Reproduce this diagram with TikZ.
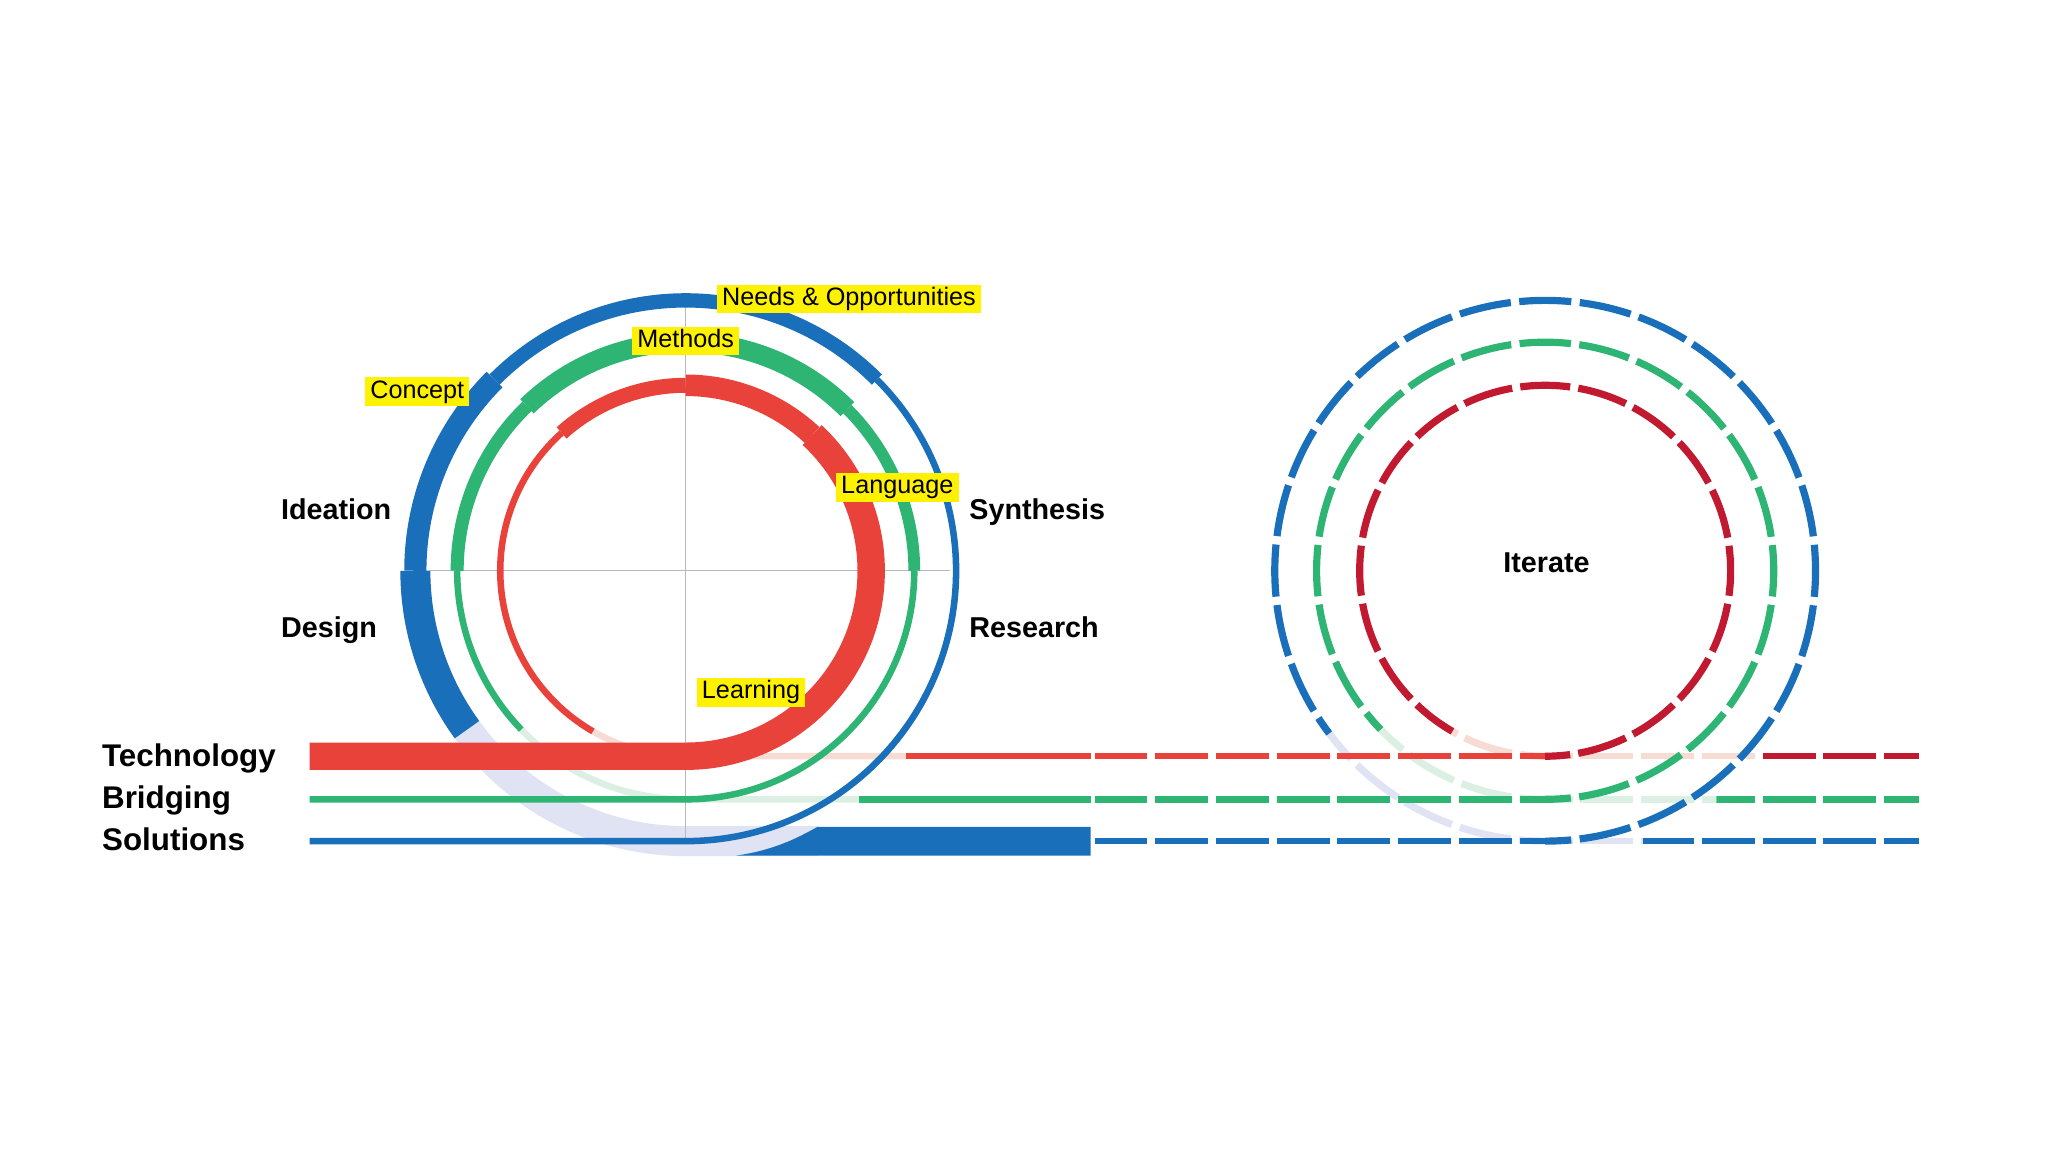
\documentclass[tikz,border=0pt]{standalone}
\usepackage{fontspec}
\setmainfont{Liberation Sans}
\usepackage{tikz}
\usetikzlibrary{positioning}

\definecolor{solBlue}{HTML}{1A6FBA}
\definecolor{briGreen}{HTML}{2EB574}
\definecolor{tecRed}{HTML}{E9423A}
\definecolor{itRed}{HTML}{C1192F}
\definecolor{solPale}{HTML}{DFE3F3}
\definecolor{briPale}{HTML}{DCEFE3}
\definecolor{tecPale}{HTML}{F7DCD3}
\definecolor{tagYellow}{HTML}{FFF200}

\tikzset{
  tagbox/.style={fill=tagYellow, text=black, font=\fontsize{19.3}{22}\selectfont,
    inner xsep=4pt, inner ysep=2pt, text height=14pt, text depth=4pt},
  stagelabel/.style={font=\bfseries\fontsize{22}{26}\selectfont, anchor=base west, inner sep=0pt},
  tracklabel/.style={font=\bfseries\fontsize{24}{28}\selectfont, anchor=base west, inner sep=0pt},
  hdash/.style={line width=5pt, dash pattern=on 40.5pt off 6pt},
}

\begin{document}
\begin{tikzpicture}[x=1pt,y=1pt]
  \useasboundingbox (0,0) rectangle (1568,882);
  \coordinate (lc) at (525,445);
  \coordinate (rc) at (1183,445);

  % left loop: the parts running behind
  \draw[solPale, line width=23] (lc) ++(216:207) arc[start angle=216, end angle=270, radius=207] -- (626,238);
  \draw[briPale, line width=5] (lc) ++(224:175) arc[start angle=224, end angle=270, radius=175] -- (658,270);
  \draw[tecPale, line width=5] (lc) ++(240:142) arc[start angle=240, end angle=270, radius=142] -- (694,303);

  % cross hair
  \draw[gray!55, line width=0.8] (329,445) -- (727,445);
  \draw[gray!55, line width=0.8] (525,650) -- (525,240);

  % Solutions
  \draw[solBlue, line width=5] (237,238) -- (525,238) arc[start angle=-90, end angle=45, radius=207];
  \foreach \a/\b/\w in {45/135/11, 135/180/17, 180/216/23}
    \draw[solBlue, line width=\w] (lc) ++(\a:207) arc[start angle=\a, end angle=\b, radius=207];
  \fill[solBlue] (564,227) .. controls (592,231) and (610,240) .. (626,249) -- (835,249) -- (835,227) -- cycle;

  % Bridging
  \draw[briGreen, line width=5] (237,270) -- (525,270) arc[start angle=-90, end angle=0, radius=175];
  \foreach \a/\b/\w in {0/45/9, 45/134/15, 134/180/10, 180/224/5}
    \draw[briGreen, line width=\w] (lc) ++(\a:175) arc[start angle=\a, end angle=\b, radius=175];
  \draw[briGreen, line width=5] (658,270) -- (835,270);

  % Technology
  \draw[tecRed, line width=21] (237,303) -- (525,303) arc[start angle=-90, end angle=47, radius=142];
  \foreach \a/\b/\w in {47/90/16.5, 90/132/11.5, 132/240/5}
    \draw[tecRed, line width=\w] (lc) ++(\a:142) arc[start angle=\a, end angle=\b, radius=142];
  \draw[tecRed, line width=5] (694,303) -- (835,303);

  % right loop: rings behind
  \foreach \r/\a/\pal/\n in {207/217/solPale/28, 175/224/briPale/24, 142/240/tecPale/20} {
    \pgfmathsetmacro\dper{2*pi*\r/\n}
    \pgfmathsetmacro\don{0.86*\dper}
    \pgfmathsetmacro\doff{\dper-\don}
    \pgfmathsetmacro\dph{\don/2 + (\a+90)/360*2*pi*\r}
    \draw[\pal, line width=5.5, dash pattern=on \don pt off \doff pt, dash phase=\dph pt]
      (rc) ++(\a:\r) arc[start angle=\a, end angle=270, radius=\r];
  }

  % dashed tracks
  \foreach \y/\ca/\xa/\cb/\xb/\cc in {303/tecRed/1184/tecPale/1349/itRed,
      270/briGreen/1184/briPale/1314/briGreen, 238/solBlue/1184/solPale/1258/solBlue} {
    \begin{scope}
      \clip (830,\y-10) rectangle (\xa,\y+10);
      \draw[hdash, \ca] (838,\y) -- (1469,\y);
    \end{scope}
    \begin{scope}
      \clip (\xa,\y-10) rectangle (\xb,\y+10);
      \draw[hdash, \cb] (838,\y) -- (1469,\y);
    \end{scope}
    \begin{scope}
      \clip (\xb,\y-10) rectangle (1480,\y+10);
      \draw[hdash, \cc] (838,\y) -- (1469,\y);
    \end{scope}
  }

  % right loop: rings in front
  \foreach \r/\a/\col/\n in {207/217/solBlue/28, 175/224/briGreen/24, 142/240/itRed/20} {
    \pgfmathsetmacro\dper{2*pi*\r/\n}
    \pgfmathsetmacro\don{0.86*\dper}
    \pgfmathsetmacro\doff{\dper-\don}
    \pgfmathsetmacro\dph{\don/2}
    \draw[\col, line width=5.5, dash pattern=on \don pt off \doff pt, dash phase=\dph pt]
      (rc) ++(-90:\r) arc[start angle=-90, end angle=\a, radius=\r];
  }

  % labels
  \node[tagbox] (needs) at (650,653) {Needs \& Opportunities};
  \node[tagbox] (methods) at (525,621) {Methods};
  \node[tagbox] (concept) at (319.5,582) {Concept};
  \node[tagbox] (language) at (687,509) {Language};
  \node[tagbox] (learning) at (575,352) {Learning};
  \node[stagelabel] (ideation) at (215,484) {Ideation};
  \node[stagelabel] (design) at (215,394) {Design};
  \node[stagelabel] (synthesis) at (742,484) {Synthesis};
  \node[stagelabel] (research) at (742,394) {Research};
  \node[tracklabel] (technology) at (78,295) {Technology};
  \node[tracklabel] (bridging) at (78,263) {Bridging};
  \node[tracklabel] (solutions) at (78,231) {Solutions};
  \node[stagelabel, anchor=base] (iterate) at (1184,444) {Iterate};
\end{tikzpicture}
\end{document}
